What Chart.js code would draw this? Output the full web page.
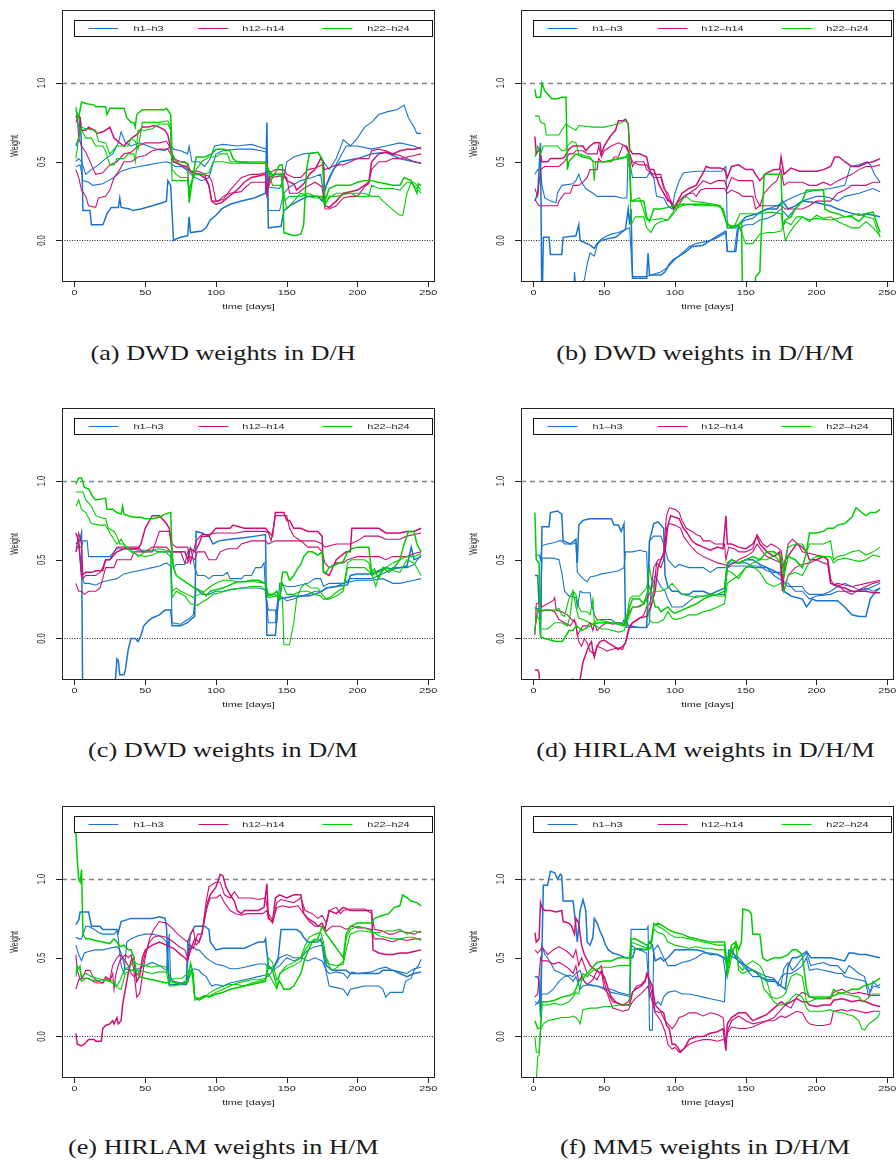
<!DOCTYPE html>
<html>
<head>
<meta charset="utf-8">
<script src="https://cdn.jsdelivr.net/npm/chart.js@4.4.1/dist/chart.umd.min.js"></script>
<style>
  body { margin: 0; background: #fff; width: 896px; height: 1164px; position: relative; overflow: hidden; }
  canvas { position: absolute; }
  .cap { position: absolute; width: 448px; text-align: center; line-height: 24px;
         font-family: 'Liberation Serif', 'DejaVu Serif', serif; font-size: 21px; color: #1a1a1a; }
  .cap span { display: inline-block; transform: scaleX(1.25); }
</style>
</head>
<body>
<script>
// axis ticks and legend text
const xTicks = [0, 50, 100, 150, 200, 250];
const yTicks = [0, 0.5, 1];
const yTickLabels = ['0.0', '0.5', '1.0'];
const horizons = ['h1\u2013h3', 'h12\u2013h14', 'h22\u2013h24'];

// each horizon group holds three lines of [day, weight]

// (a) DWD weights in D/H
const dwdDH_h1 = [
  [[1,0.6],[3,0.65],[4,0.78],[5,0.6],[6,0.19],[11,0.19],[12,0.1],[20,0.1],[21,0.12],[23,0.17],[26,0.21],[31,0.21],[32,0.27],[33,0.21],[39,0.2],[41,0.19],[47,0.2],[55,0.22],[62,0.24],[65,0.25],[66,0.38],[68,0.35],[70,0.0],[72,0.01],[75,0.02],[80,0.03],[81,0.15],[82,0.05],[90,0.06],[93,0.08],[96,0.13],[100,0.16],[104,0.2],[110,0.23],[118,0.25],[127,0.27],[135,0.3],[136,0.75],[137,0.08],[146,0.09],[148,0.19],[152,0.22],[158,0.25],[165,0.28],[172,0.28],[175,0.25],[178,0.35],[183,0.45],[188,0.5],[200,0.52],[210,0.55],[220,0.56],[230,0.52],[240,0.5],[245,0.49]],
  [[1,0.5],[3,0.52],[5,0.5],[8,0.42],[12,0.45],[17,0.48],[22,0.52],[27,0.55],[31,0.62],[33,0.69],[36,0.62],[40,0.6],[46,0.62],[52,0.6],[58,0.58],[64,0.57],[68,0.6],[70,0.58],[75,0.57],[80,0.55],[81,0.6],[83,0.5],[88,0.5],[92,0.47],[96,0.52],[99,0.6],[105,0.61],[115,0.6],[125,0.61],[132,0.59],[136,0.58],[137,0.34],[145,0.33],[148,0.4],[150,0.5],[155,0.53],[162,0.55],[172,0.56],[176,0.5],[180,0.45],[185,0.52],[190,0.64],[195,0.6],[200,0.65],[205,0.72],[210,0.75],[215,0.8],[222,0.82],[228,0.83],[233,0.86],[236,0.78],[240,0.72],[242,0.68],[245,0.68]],
  [[1,0.47],[4,0.48],[6,0.38],[10,0.37],[13,0.35],[20,0.36],[24,0.38],[28,0.4],[33,0.44],[40,0.46],[46,0.47],[52,0.48],[58,0.49],[65,0.5],[68,0.49],[71,0.47],[76,0.47],[80,0.44],[85,0.4],[90,0.38],[95,0.4],[100,0.55],[105,0.57],[115,0.58],[125,0.58],[132,0.57],[136,0.56],[137,0.19],[145,0.19],[148,0.3],[152,0.34],[160,0.38],[168,0.4],[174,0.42],[176,0.3],[180,0.4],[186,0.5],[192,0.6],[200,0.6],[210,0.58],[220,0.6],[230,0.62],[240,0.6],[245,0.58]]
];
const dwdDH_h12 = [
  [[1,0.78],[2,0.8],[4,0.78],[5,0.7],[8,0.7],[10,0.72],[14,0.7],[16,0.68],[20,0.69],[22,0.7],[25,0.72],[28,0.65],[32,0.62],[35,0.6],[38,0.63],[42,0.66],[45,0.68],[48,0.72],[52,0.72],[56,0.73],[60,0.72],[64,0.7],[66,0.67],[68,0.58],[70,0.5],[75,0.48],[79,0.47],[81,0.45],[84,0.42],[88,0.42],[92,0.4],[95,0.35],[97,0.25],[100,0.23],[104,0.24],[108,0.27],[112,0.3],[116,0.33],[120,0.37],[125,0.4],[130,0.41],[135,0.42],[136,0.3],[138,0.4],[142,0.42],[148,0.42],[150,0.38],[155,0.36],[157,0.32],[162,0.36],[166,0.42],[170,0.45],[174,0.52],[176,0.5],[177,0.22],[180,0.21],[185,0.25],[190,0.3],[195,0.31],[200,0.32],[205,0.35],[208,0.37],[210,0.5],[215,0.55],[220,0.56],[225,0.55],[230,0.57],[235,0.58],[240,0.58],[245,0.59]],
  [[1,0.45],[3,0.4],[5,0.32],[8,0.28],[10,0.22],[15,0.21],[17,0.27],[22,0.28],[25,0.32],[28,0.4],[32,0.45],[35,0.5],[40,0.5],[45,0.53],[50,0.54],[55,0.57],[60,0.58],[66,0.58],[68,0.55],[70,0.5],[75,0.48],[80,0.45],[82,0.44],[88,0.44],[92,0.42],[95,0.35],[97,0.25],[102,0.25],[105,0.28],[110,0.3],[118,0.31],[120,0.33],[125,0.37],[130,0.37],[135,0.37],[137,0.34],[140,0.4],[145,0.41],[150,0.4],[152,0.3],[158,0.3],[162,0.33],[166,0.35],[170,0.37],[175,0.34],[177,0.2],[180,0.2],[185,0.22],[190,0.27],[195,0.28],[200,0.28],[205,0.34],[208,0.36],[210,0.45],[215,0.5],[220,0.5],[225,0.52],[230,0.52],[235,0.53],[240,0.54],[245,0.55]],
  [[1,0.75],[2,0.78],[3,0.65],[5,0.6],[8,0.56],[10,0.52],[12,0.48],[15,0.42],[20,0.43],[25,0.48],[30,0.5],[35,0.55],[40,0.56],[45,0.6],[50,0.62],[55,0.62],[60,0.62],[65,0.63],[67,0.6],[70,0.52],[75,0.5],[80,0.49],[82,0.44],[85,0.43],[90,0.42],[95,0.41],[97,0.38],[100,0.25],[105,0.26],[110,0.32],[115,0.37],[118,0.4],[125,0.42],[130,0.42],[135,0.43],[136,0.28],[138,0.43],[142,0.45],[148,0.45],[150,0.42],[155,0.4],[160,0.4],[165,0.45],[170,0.46],[175,0.48],[177,0.45],[180,0.46],[185,0.48],[190,0.48],[195,0.5],[200,0.52],[205,0.52],[208,0.52],[210,0.57],[215,0.58],[220,0.57],[225,0.55],[230,0.54],[235,0.52],[240,0.5],[245,0.49]]
];
const dwdDH_h22 = [
  [[1,0.83],[3,0.78],[5,0.88],[8,0.87],[14,0.86],[15,0.85],[22,0.85],[23,0.8],[25,0.84],[30,0.84],[35,0.84],[37,0.78],[40,0.75],[42,0.75],[43,0.72],[44,0.8],[48,0.83],[55,0.83],[63,0.83],[65,0.84],[68,0.8],[69,0.55],[72,0.5],[78,0.5],[80,0.48],[81,0.24],[82,0.3],[84,0.42],[86,0.53],[92,0.53],[97,0.55],[100,0.58],[105,0.58],[110,0.57],[112,0.52],[115,0.5],[125,0.49],[135,0.49],[137,0.45],[140,0.4],[145,0.48],[147,0.48],[148,0.05],[155,0.03],[160,0.04],[162,0.1],[164,0.45],[166,0.55],[172,0.56],[175,0.52],[177,0.25],[180,0.33],[185,0.35],[195,0.35],[200,0.37],[205,0.38],[210,0.38],[215,0.37],[220,0.36],[225,0.35],[230,0.35],[233,0.4],[238,0.38],[242,0.3],[243,0.36],[245,0.35]],
  [[1,0.85],[3,0.72],[5,0.7],[8,0.65],[12,0.65],[15,0.6],[20,0.6],[22,0.57],[25,0.48],[28,0.48],[30,0.52],[35,0.52],[38,0.55],[42,0.55],[43,0.5],[44,0.6],[45,0.7],[50,0.7],[55,0.71],[60,0.74],[66,0.74],[68,0.7],[69,0.45],[72,0.42],[75,0.4],[80,0.4],[81,0.3],[82,0.35],[86,0.45],[90,0.5],[95,0.53],[100,0.53],[103,0.55],[108,0.55],[110,0.5],[120,0.5],[130,0.5],[135,0.5],[137,0.45],[140,0.42],[146,0.42],[148,0.25],[152,0.28],[160,0.28],[165,0.3],[170,0.28],[175,0.28],[177,0.23],[180,0.27],[185,0.3],[195,0.3],[200,0.28],[208,0.28],[210,0.35],[215,0.33],[225,0.33],[230,0.32],[235,0.37],[240,0.37],[245,0.32]],
  [[1,0.52],[3,0.65],[5,0.72],[8,0.71],[15,0.7],[17,0.63],[22,0.62],[25,0.55],[28,0.58],[30,0.6],[38,0.6],[40,0.65],[43,0.63],[45,0.58],[48,0.75],[55,0.75],[60,0.75],[66,0.76],[68,0.72],[69,0.38],[75,0.38],[80,0.38],[81,0.33],[83,0.38],[85,0.42],[90,0.42],[95,0.43],[98,0.5],[105,0.5],[110,0.49],[120,0.49],[130,0.49],[135,0.49],[137,0.44],[140,0.35],[146,0.35],[148,0.3],[150,0.2],[155,0.25],[160,0.3],[165,0.28],[170,0.27],[175,0.27],[177,0.22],[180,0.28],[185,0.28],[190,0.29],[195,0.3],[200,0.3],[205,0.3],[210,0.28],[215,0.28],[218,0.25],[222,0.22],[227,0.18],[230,0.16],[232,0.16],[235,0.3],[238,0.37],[242,0.33],[245,0.3]]
];

// (b) DWD weights in D/H/M
const dwdDHM_h1 = [
  [[1,0.25],[3,0.3],[5,0.62],[6,-0.5],[7,0.02],[11,0.02],[12,-0.09],[20,-0.09],[21,0.02],[30,0.03],[32,0.1],[33,0.0],[40,-0.03],[43,-0.05],[45,-0.02],[48,0.0],[52,0.01],[58,0.02],[62,0.05],[65,0.07],[67,0.2],[68,0.1],[69,0.2],[70,-0.24],[80,-0.24],[81,-0.08],[82,-0.22],[90,-0.22],[93,-0.2],[96,-0.15],[99,-0.12],[103,-0.1],[108,-0.07],[112,-0.04],[120,-0.03],[125,0.0],[130,0.02],[136,0.05],[137,-0.07],[143,-0.07],[145,0.1],[150,0.15],[158,0.17],[165,0.2],[172,0.2],[176,0.25],[180,0.2],[185,0.22],[190,0.25],[200,0.24],[210,0.22],[215,0.2],[222,0.18],[230,0.16],[235,0.17],[240,0.16],[245,0.15]],
  [[1,0.42],[3,0.45],[5,0.45],[6,0.35],[8,0.27],[12,0.25],[16,0.24],[17,0.3],[20,0.35],[28,0.36],[30,0.38],[32,0.42],[34,0.37],[37,0.33],[42,0.3],[45,0.28],[58,0.28],[62,0.27],[66,0.27],[67,0.57],[68,0.5],[70,0.4],[80,0.4],[82,0.43],[85,0.4],[87,0.28],[92,0.27],[95,0.22],[98,0.2],[100,0.3],[103,0.38],[106,0.43],[115,0.44],[125,0.44],[133,0.44],[136,0.47],[137,0.08],[143,0.08],[145,0.1],[150,0.13],[155,0.14],[160,0.18],[165,0.2],[172,0.22],[178,0.25],[185,0.28],[190,0.3],[200,0.32],[210,0.33],[220,0.35],[224,0.47],[230,0.48],[236,0.5],[238,0.48],[241,0.42],[245,0.37]],
  [[1,-0.5],[28,-0.4],[29,-0.2],[30,-0.3],[33,-0.28],[36,-0.25],[38,-0.15],[40,-0.08],[43,-0.1],[45,-0.03],[47,0.0],[50,0.02],[55,0.04],[60,0.05],[65,0.07],[68,0.08],[70,-0.23],[80,-0.23],[83,-0.22],[90,-0.2],[95,-0.17],[100,-0.12],[105,-0.08],[110,-0.04],[115,-0.02],[125,0.0],[130,0.03],[136,0.06],[137,-0.07],[142,-0.07],[144,0.07],[150,0.1],[155,0.1],[160,0.13],[165,0.14],[170,0.16],[175,0.2],[180,0.15],[185,0.2],[190,0.25],[200,0.28],[205,0.28],[210,0.27],[215,0.25],[220,0.28],[230,0.3],[240,0.33],[245,0.31]]
];
const dwdDHM_h12 = [
  [[1,0.66],[2,0.55],[4,0.58],[6,0.5],[10,0.5],[12,0.52],[20,0.52],[22,0.53],[25,0.58],[28,0.6],[35,0.6],[37,0.57],[40,0.6],[43,0.62],[47,0.62],[48,0.55],[50,0.6],[52,0.63],[55,0.67],[58,0.7],[60,0.76],[63,0.76],[65,0.77],[67,0.74],[68,0.58],[70,0.55],[75,0.55],[80,0.53],[82,0.45],[85,0.45],[87,0.4],[89,0.35],[92,0.3],[95,0.25],[97,0.25],[99,0.2],[102,0.25],[105,0.3],[110,0.33],[115,0.35],[118,0.4],[120,0.43],[122,0.47],[125,0.46],[132,0.46],[135,0.45],[137,0.4],[140,0.47],[145,0.48],[150,0.45],[155,0.45],[157,0.42],[160,0.38],[165,0.43],[170,0.45],[174,0.45],[175,0.53],[177,0.42],[182,0.46],[188,0.44],[200,0.44],[205,0.45],[210,0.47],[213,0.53],[216,0.53],[220,0.5],[225,0.47],[230,0.47],[235,0.49],[240,0.5],[245,0.52]],
  [[1,0.33],[3,0.28],[5,0.45],[8,0.47],[15,0.47],[18,0.47],[22,0.5],[25,0.55],[28,0.55],[30,0.57],[35,0.57],[38,0.55],[45,0.55],[46,0.6],[48,0.53],[50,0.57],[55,0.6],[60,0.62],[65,0.6],[66,0.58],[68,0.55],[70,0.47],[72,0.5],[78,0.5],[80,0.45],[85,0.42],[90,0.42],[92,0.35],[95,0.27],[98,0.22],[100,0.22],[103,0.25],[106,0.28],[110,0.3],[115,0.33],[120,0.38],[125,0.36],[130,0.38],[135,0.38],[137,0.33],[140,0.4],[145,0.38],[155,0.38],[157,0.27],[160,0.22],[163,0.3],[168,0.35],[172,0.38],[175,0.45],[177,0.35],[180,0.37],[190,0.37],[195,0.35],[200,0.35],[205,0.37],[210,0.35],[215,0.38],[220,0.4],[225,0.42],[230,0.45],[235,0.47],[240,0.47],[245,0.48]],
  [[1,0.26],[4,0.22],[10,0.22],[17,0.22],[18,0.25],[22,0.3],[26,0.3],[28,0.35],[32,0.35],[35,0.37],[38,0.4],[40,0.45],[45,0.45],[46,0.52],[48,0.5],[55,0.5],[57,0.53],[60,0.53],[63,0.6],[66,0.6],[67,0.57],[70,0.5],[75,0.48],[80,0.48],[82,0.45],[85,0.4],[90,0.4],[92,0.33],[95,0.3],[97,0.25],[100,0.21],[103,0.23],[106,0.27],[110,0.3],[113,0.3],[115,0.28],[118,0.32],[122,0.33],[135,0.33],[137,0.3],[140,0.32],[145,0.3],[148,0.28],[155,0.28],[157,0.2],[160,0.22],[165,0.22],[170,0.22],[175,0.22],[178,0.2],[185,0.2],[190,0.2],[195,0.22],[200,0.25],[210,0.25],[215,0.3],[220,0.32],[225,0.35],[230,0.35],[235,0.35],[240,0.37],[245,0.37]]
];
const dwdDHM_h22 = [
  [[1,0.96],[2,0.91],[5,0.91],[6,1.0],[8,0.95],[10,0.93],[13,0.9],[17,0.9],[20,0.91],[23,0.91],[24,0.45],[25,0.5],[27,0.52],[30,0.55],[35,0.53],[40,0.52],[43,0.5],[45,0.5],[50,0.5],[55,0.51],[60,0.52],[65,0.53],[67,0.55],[68,0.5],[69,0.25],[72,0.25],[78,0.25],[80,0.15],[82,0.12],[85,0.2],[90,0.2],[95,0.21],[100,0.22],[105,0.23],[110,0.23],[120,0.23],[130,0.22],[134,0.2],[136,0.12],[140,0.08],[145,0.1],[147,0.12],[148,-0.5],[156,-0.5],[157,-0.23],[160,-0.2],[161,0.05],[162,0.2],[163,0.42],[170,0.42],[175,0.42],[176,0.1],[178,0.13],[182,0.15],[185,0.2],[190,0.25],[193,0.32],[200,0.32],[205,0.32],[206,0.2],[210,0.18],[215,0.17],[220,0.15],[225,0.15],[230,0.12],[235,0.17],[240,0.18],[243,0.1],[245,0.05]],
  [[1,0.79],[4,0.79],[5,0.75],[8,0.74],[9,0.67],[18,0.67],[20,0.7],[23,0.74],[26,0.72],[30,0.7],[32,0.73],[42,0.72],[50,0.72],[55,0.73],[60,0.74],[65,0.76],[67,0.74],[68,0.5],[69,0.1],[72,0.15],[78,0.15],[80,0.08],[83,0.05],[86,0.1],[90,0.12],[95,0.13],[100,0.18],[105,0.26],[108,0.28],[112,0.25],[120,0.24],[128,0.23],[132,0.22],[135,0.15],[137,0.1],[142,0.09],[146,0.17],[150,0.17],[160,0.17],[168,0.18],[175,0.17],[178,0.0],[181,0.05],[185,0.1],[190,0.15],[195,0.13],[200,0.14],[210,0.13],[220,0.15],[230,0.17],[235,0.15],[240,0.14],[245,0.02]],
  [[1,0.53],[3,0.6],[5,0.55],[7,0.6],[17,0.6],[20,0.57],[22,0.57],[24,0.6],[27,0.63],[30,0.62],[32,0.55],[36,0.54],[40,0.53],[42,0.5],[43,0.38],[44,0.5],[48,0.5],[52,0.5],[56,0.51],[62,0.52],[66,0.53],[68,0.45],[69,0.25],[75,0.27],[80,0.13],[84,0.13],[90,0.14],[95,0.13],[100,0.2],[105,0.22],[110,0.23],[115,0.22],[125,0.22],[132,0.22],[135,0.17],[137,0.08],[145,0.1],[150,-0.02],[155,-0.02],[160,0.04],[165,0.05],[170,0.05],[175,0.06],[178,0.12],[182,0.1],[186,0.15],[190,0.15],[195,0.12],[200,0.16],[205,0.14],[210,0.15],[215,0.12],[220,0.1],[225,0.08],[230,0.08],[235,0.12],[240,0.08],[245,0.03]]
];

// (c) DWD weights in D/M
const dwdDM_h1 = [
  [[1,0.6],[4,0.63],[5,0.67],[6,-0.6],[28,-0.5],[29,-0.26],[30,-0.13],[31,-0.14],[32,-0.23],[35,-0.23],[36,-0.2],[38,-0.07],[40,0.0],[43,0.0],[45,-0.02],[47,0.02],[49,0.08],[52,0.11],[55,0.13],[60,0.15],[64,0.18],[68,0.18],[69,0.08],[75,0.08],[80,0.1],[82,0.12],[85,0.14],[86,0.68],[90,0.67],[95,0.65],[98,0.6],[102,0.62],[110,0.63],[120,0.64],[128,0.65],[135,0.66],[136,0.02],[142,0.02],[144,0.25],[150,0.26],[155,0.27],[165,0.27],[170,0.28],[175,0.3],[178,0.32],[185,0.33],[193,0.34],[195,0.4],[200,0.41],[210,0.41],[215,0.43],[220,0.45],[225,0.44],[230,0.45],[235,0.46],[238,0.58],[240,0.5],[245,0.52]],
  [[1,0.58],[5,0.58],[6,0.62],[9,0.62],[10,0.52],[15,0.52],[25,0.52],[28,0.55],[30,0.57],[40,0.57],[45,0.56],[55,0.56],[60,0.55],[68,0.55],[69,0.5],[70,0.45],[72,0.47],[78,0.47],[80,0.55],[82,0.58],[85,0.45],[87,0.4],[92,0.4],[95,0.38],[98,0.4],[105,0.4],[108,0.42],[110,0.38],[118,0.38],[120,0.4],[125,0.4],[128,0.45],[132,0.45],[134,0.48],[135,0.3],[137,0.18],[142,0.18],[143,0.1],[145,0.35],[150,0.33],[155,0.33],[160,0.34],[165,0.35],[170,0.38],[174,0.38],[176,0.33],[180,0.35],[190,0.35],[195,0.38],[210,0.38],[215,0.4],[220,0.42],[225,0.45],[235,0.45],[240,0.47],[245,0.53]],
  [[1,0.55],[3,0.6],[5,0.4],[7,0.35],[10,0.35],[15,0.34],[20,0.36],[25,0.37],[30,0.38],[35,0.41],[40,0.42],[45,0.43],[50,0.44],[55,0.45],[60,0.46],[65,0.48],[68,0.46],[69,0.1],[75,0.09],[80,0.12],[84,0.15],[86,0.32],[90,0.28],[95,0.28],[100,0.3],[105,0.3],[110,0.31],[120,0.32],[130,0.32],[135,0.31],[137,0.1],[142,0.1],[144,0.28],[150,0.24],[155,0.25],[160,0.27],[165,0.28],[170,0.3],[175,0.3],[178,0.32],[185,0.33],[190,0.35],[195,0.36],[200,0.37],[210,0.37],[218,0.38],[225,0.35],[230,0.35],[235,0.36],[240,0.37],[245,0.38]]
];
const dwdDM_h12 = [
  [[1,0.67],[3,0.62],[5,0.4],[8,0.42],[12,0.42],[15,0.43],[20,0.43],[22,0.5],[25,0.5],[27,0.52],[30,0.55],[35,0.57],[45,0.57],[47,0.6],[50,0.7],[55,0.78],[60,0.78],[65,0.73],[67,0.7],[69,0.55],[72,0.55],[78,0.55],[80,0.5],[82,0.57],[85,0.55],[88,0.6],[90,0.65],[95,0.65],[100,0.7],[110,0.7],[112,0.72],[120,0.7],[135,0.7],[137,0.68],[140,0.65],[142,0.8],[148,0.8],[150,0.75],[152,0.75],[155,0.7],[160,0.7],[165,0.68],[172,0.68],[175,0.65],[176,0.42],[180,0.4],[185,0.5],[192,0.55],[195,0.55],[196,0.7],[205,0.7],[210,0.7],[215,0.7],[220,0.67],[230,0.67],[235,0.68],[240,0.68],[245,0.7]],
  [[1,0.55],[3,0.67],[5,0.6],[6,0.38],[8,0.4],[15,0.4],[18,0.42],[20,0.45],[22,0.5],[25,0.5],[30,0.58],[45,0.58],[48,0.55],[55,0.55],[57,0.6],[60,0.68],[67,0.68],[69,0.6],[72,0.58],[80,0.58],[82,0.48],[84,0.55],[86,0.62],[90,0.66],[95,0.66],[100,0.67],[115,0.67],[120,0.68],[135,0.68],[137,0.67],[139,0.62],[142,0.78],[150,0.78],[152,0.7],[155,0.65],[160,0.62],[170,0.62],[175,0.6],[177,0.58],[185,0.6],[195,0.6],[200,0.62],[205,0.65],[215,0.65],[220,0.63],[230,0.63],[235,0.65],[245,0.67]],
  [[1,0.35],[3,0.3],[5,0.3],[7,0.28],[10,0.3],[15,0.3],[18,0.32],[20,0.38],[22,0.45],[28,0.45],[30,0.5],[40,0.5],[42,0.55],[50,0.55],[55,0.58],[65,0.58],[68,0.55],[75,0.55],[78,0.48],[80,0.48],[82,0.52],[85,0.5],[87,0.55],[92,0.55],[95,0.5],[100,0.5],[103,0.55],[108,0.57],[115,0.57],[118,0.6],[125,0.62],[135,0.62],[137,0.6],[142,0.62],[150,0.62],[160,0.62],[165,0.58],[172,0.58],[175,0.55],[177,0.48],[180,0.45],[185,0.48],[190,0.48],[193,0.5],[200,0.52],[215,0.52],[220,0.5],[225,0.52],[235,0.52],[240,0.54],[245,0.55]]
];
const dwdDM_h22 = [
  [[1,0.98],[2,1.0],[3,1.02],[5,1.02],[7,0.96],[10,0.95],[13,0.9],[15,0.88],[22,0.89],[23,0.82],[27,0.82],[30,0.8],[33,0.79],[34,0.84],[35,0.79],[38,0.78],[42,0.77],[47,0.77],[50,0.76],[55,0.76],[60,0.77],[64,0.79],[68,0.8],[69,0.55],[70,0.45],[72,0.4],[75,0.38],[80,0.35],[85,0.32],[90,0.3],[93,0.27],[96,0.3],[100,0.31],[105,0.32],[110,0.34],[115,0.36],[120,0.36],[125,0.37],[130,0.37],[135,0.35],[137,0.28],[140,0.28],[143,0.3],[145,0.25],[147,0.42],[150,0.42],[152,0.37],[155,0.4],[158,0.45],[160,0.47],[162,0.52],[165,0.55],[168,0.55],[172,0.53],[175,0.55],[176,0.42],[178,0.42],[180,0.45],[185,0.47],[190,0.49],[193,0.55],[196,0.57],[200,0.58],[205,0.58],[208,0.58],[210,0.42],[212,0.44],[215,0.38],[218,0.45],[222,0.42],[226,0.45],[230,0.5],[233,0.6],[236,0.68],[240,0.68],[242,0.6],[245,0.55]],
  [[1,0.93],[6,0.93],[8,0.88],[12,0.84],[15,0.78],[18,0.77],[22,0.76],[24,0.7],[28,0.68],[30,0.65],[32,0.6],[35,0.6],[38,0.57],[42,0.55],[45,0.52],[50,0.55],[55,0.56],[60,0.57],[65,0.56],[68,0.55],[69,0.3],[72,0.32],[75,0.3],[80,0.28],[84,0.26],[88,0.28],[92,0.3],[96,0.33],[100,0.35],[105,0.37],[110,0.37],[115,0.36],[120,0.36],[128,0.36],[135,0.35],[137,0.27],[142,0.28],[145,0.26],[147,0.25],[148,-0.04],[152,-0.04],[155,0.1],[157,0.25],[160,0.32],[163,0.35],[167,0.32],[172,0.32],[175,0.28],[178,0.25],[182,0.27],[186,0.3],[190,0.32],[193,0.48],[196,0.5],[200,0.5],[205,0.5],[208,0.48],[210,0.4],[215,0.42],[220,0.45],[225,0.48],[230,0.5],[235,0.52],[240,0.52],[245,0.54]],
  [[1,0.84],[3,0.88],[5,0.82],[8,0.8],[12,0.73],[18,0.72],[22,0.72],[25,0.67],[30,0.6],[33,0.63],[36,0.58],[40,0.55],[45,0.53],[50,0.52],[55,0.53],[60,0.55],[64,0.55],[68,0.52],[69,0.26],[72,0.3],[78,0.27],[82,0.22],[87,0.21],[90,0.23],[94,0.25],[98,0.28],[103,0.29],[110,0.31],[118,0.32],[125,0.33],[132,0.33],[135,0.3],[137,0.26],[143,0.27],[145,0.25],[147,0.35],[150,0.28],[155,0.28],[160,0.3],[165,0.3],[170,0.28],[174,0.27],[176,0.25],[180,0.25],[185,0.27],[190,0.3],[193,0.45],[200,0.45],[205,0.45],[210,0.41],[213,0.33],[215,0.4],[220,0.45],[225,0.43],[230,0.42],[235,0.5],[240,0.48],[245,0.4]]
];

// (d) HIRLAM weights in D/H/M
const hirlamDHM_h1 = [
  [[1,0.4],[3,0.4],[4,0.2],[5,0.02],[6,0.71],[11,0.71],[12,0.8],[17,0.81],[20,0.79],[21,0.62],[26,0.6],[30,0.63],[31,0.48],[32,0.72],[35,0.75],[40,0.76],[50,0.76],[55,0.76],[57,0.72],[60,0.72],[62,0.68],[64,0.73],[65,0.12],[67,0.08],[75,0.07],[80,0.07],[81,0.3],[82,0.62],[85,0.73],[88,0.74],[90,0.72],[92,0.7],[93,0.4],[95,0.33],[98,0.3],[102,0.3],[105,0.28],[110,0.28],[113,0.3],[120,0.3],[125,0.28],[130,0.3],[135,0.32],[137,0.47],[140,0.5],[145,0.48],[150,0.5],[155,0.5],[160,0.47],[165,0.45],[170,0.43],[175,0.4],[177,0.3],[182,0.27],[190,0.25],[193,0.2],[197,0.25],[200,0.24],[215,0.24],[220,0.2],[225,0.15],[230,0.14],[235,0.14],[238,0.25],[242,0.3],[245,0.32]],
  [[1,0.53],[4,0.53],[5,0.5],[6,0.59],[10,0.6],[15,0.61],[18,0.62],[20,0.62],[22,0.6],[28,0.6],[30,0.61],[31,0.42],[33,0.4],[35,0.38],[38,0.36],[40,0.39],[45,0.4],[48,0.41],[55,0.42],[60,0.43],[64,0.45],[65,0.55],[70,0.55],[75,0.56],[80,0.55],[81,0.3],[82,0.62],[85,0.65],[90,0.65],[92,0.6],[95,0.5],[100,0.45],[103,0.47],[110,0.45],[120,0.45],[125,0.42],[130,0.45],[137,0.45],[140,0.48],[150,0.48],[155,0.46],[160,0.46],[165,0.43],[170,0.42],[175,0.42],[177,0.35],[180,0.33],[190,0.33],[192,0.3],[195,0.28],[205,0.28],[210,0.3],[215,0.33],[220,0.35],[225,0.33],[230,0.31],[235,0.31],[240,0.33],[245,0.35]],
  [[1,0.19],[4,0.19],[5,0.1],[6,0.51],[14,0.51],[18,0.5],[20,0.42],[22,0.3],[25,0.27],[30,0.26],[31,0.2],[33,0.3],[35,0.29],[40,0.29],[41,0.22],[43,0.15],[45,0.12],[55,0.12],[58,0.1],[63,0.1],[64,0.12],[66,0.07],[80,0.07],[82,0.1],[83,0.3],[86,0.4],[90,0.33],[93,0.3],[95,0.25],[98,0.2],[105,0.2],[108,0.22],[112,0.25],[115,0.27],[125,0.27],[130,0.28],[135,0.28],[137,0.45],[140,0.46],[150,0.46],[155,0.45],[165,0.45],[170,0.4],[175,0.37],[180,0.35],[185,0.3],[190,0.3],[195,0.25],[200,0.27],[210,0.28],[215,0.3],[230,0.3],[235,0.32],[240,0.3],[245,0.32]]
];
const hirlamDHM_h12 = [
  [[1,-0.2],[3,-0.2],[4,-0.22],[5,-0.5],[27,-0.5],[28,-0.26],[30,-0.28],[33,-0.26],[35,-0.15],[37,-0.1],[39,-0.05],[41,-0.02],[42,-0.08],[43,-0.12],[45,-0.05],[47,-0.02],[50,-0.01],[53,-0.03],[57,-0.05],[60,-0.07],[63,-0.05],[65,-0.03],[67,0.05],[70,0.1],[75,0.13],[80,0.14],[83,0.2],[86,0.3],[88,0.45],[90,0.5],[93,0.55],[95,0.72],[97,0.78],[100,0.77],[103,0.76],[106,0.7],[108,0.68],[112,0.62],[115,0.6],[120,0.58],[125,0.56],[130,0.58],[134,0.57],[136,0.78],[137,0.6],[140,0.6],[145,0.58],[150,0.57],[155,0.6],[158,0.65],[160,0.6],[165,0.55],[170,0.52],[174,0.55],[176,0.3],[178,0.5],[182,0.55],[186,0.6],[190,0.58],[193,0.55],[195,0.5],[200,0.5],[205,0.52],[208,0.5],[210,0.35],[215,0.33],[220,0.32],[225,0.3],[230,0.3],[235,0.3],[240,0.29],[245,0.29]],
  [[1,0.02],[2,0.22],[5,0.23],[6,0.2],[10,0.22],[14,0.24],[15,0.26],[16,0.18],[20,0.17],[24,0.15],[27,0.12],[30,0.1],[31,0.02],[33,0.05],[35,0.08],[38,0.08],[40,0.1],[42,0.05],[43,0.1],[45,0.05],[48,0.08],[52,0.1],[56,0.09],[60,0.1],[63,0.09],[65,0.1],[67,0.15],[70,0.2],[73,0.2],[78,0.22],[80,0.25],[83,0.3],[85,0.45],[88,0.5],[90,0.5],[92,0.55],[94,0.78],[96,0.83],[100,0.82],[103,0.8],[105,0.75],[108,0.7],[112,0.68],[115,0.66],[118,0.65],[120,0.62],[125,0.62],[128,0.6],[132,0.6],[135,0.6],[136,0.5],[138,0.58],[142,0.57],[145,0.55],[150,0.55],[155,0.57],[158,0.66],[162,0.6],[165,0.58],[168,0.6],[172,0.58],[175,0.56],[177,0.45],[180,0.6],[183,0.63],[187,0.6],[190,0.55],[195,0.54],[200,0.53],[205,0.52],[208,0.5],[210,0.38],[212,0.34],[215,0.35],[220,0.34],[225,0.33],[230,0.34],[235,0.35],[240,0.36],[245,0.37]],
  [[1,0.05],[3,0.18],[5,0.17],[8,0.18],[12,0.18],[15,0.17],[18,0.12],[22,0.1],[26,0.08],[29,0.12],[30,0.08],[32,-0.02],[34,-0.05],[36,0.0],[38,-0.03],[40,-0.08],[43,-0.1],[45,-0.05],[48,-0.06],[52,-0.08],[55,-0.07],[60,-0.06],[63,-0.07],[66,0.0],[68,0.08],[70,0.1],[74,0.12],[78,0.15],[80,0.2],[82,0.22],[85,0.3],[87,0.48],[90,0.45],[92,0.5],[94,0.7],[96,0.73],[100,0.72],[104,0.7],[106,0.65],[110,0.6],[115,0.55],[120,0.52],[125,0.5],[130,0.48],[135,0.47],[137,0.46],[142,0.48],[145,0.5],[150,0.52],[155,0.55],[158,0.6],[162,0.55],[165,0.52],[170,0.5],[175,0.48],[177,0.3],[180,0.4],[185,0.45],[190,0.47],[195,0.48],[200,0.5],[205,0.48],[208,0.47],[210,0.35],[215,0.34],[220,0.3],[225,0.28],[230,0.31],[235,0.33],[240,0.35],[245,0.36]]
];
const hirlamDHM_h22 = [
  [[1,0.8],[2,0.5],[4,0.48],[5,0.01],[8,0.0],[12,-0.01],[16,-0.02],[20,-0.02],[22,0.0],[25,0.05],[28,0.05],[30,0.08],[32,0.07],[34,0.05],[38,0.07],[42,0.09],[46,0.1],[50,0.1],[55,0.1],[60,0.09],[64,0.08],[66,0.12],[68,0.2],[70,0.25],[75,0.25],[78,0.22],[80,0.28],[82,0.33],[84,0.28],[86,0.2],[88,0.2],[90,0.17],[95,0.2],[98,0.17],[100,0.16],[105,0.18],[110,0.2],[115,0.22],[120,0.25],[125,0.27],[130,0.28],[135,0.3],[137,0.48],[140,0.5],[145,0.48],[150,0.5],[155,0.52],[160,0.5],[165,0.55],[170,0.55],[175,0.52],[177,0.4],[180,0.52],[185,0.5],[190,0.45],[193,0.55],[195,0.67],[200,0.67],[205,0.68],[208,0.7],[212,0.7],[215,0.72],[220,0.73],[225,0.77],[228,0.83],[232,0.8],[235,0.78],[238,0.8],[242,0.8],[245,0.82]],
  [[1,0.2],[3,0.17],[5,0.18],[10,0.18],[15,0.18],[18,0.19],[20,0.15],[22,0.14],[25,0.25],[28,0.3],[30,0.28],[32,0.2],[34,0.17],[38,0.17],[40,0.15],[42,0.25],[43,0.1],[46,0.12],[50,0.11],[55,0.1],[60,0.1],[64,0.09],[66,0.15],[68,0.25],[70,0.27],[75,0.27],[80,0.32],[82,0.45],[84,0.35],[86,0.3],[90,0.3],[95,0.32],[98,0.35],[100,0.33],[105,0.28],[110,0.27],[115,0.26],[120,0.27],[125,0.28],[130,0.27],[135,0.27],[137,0.43],[140,0.42],[145,0.38],[150,0.45],[155,0.48],[160,0.5],[165,0.5],[170,0.53],[175,0.48],[177,0.45],[180,0.58],[185,0.6],[190,0.6],[193,0.55],[195,0.6],[200,0.6],[205,0.6],[210,0.62],[212,0.5],[215,0.52],[220,0.53],[225,0.55],[230,0.56],[235,0.53],[240,0.55],[245,0.58]],
  [[1,0.03],[2,0.15],[4,0.12],[5,0.06],[10,0.06],[15,0.1],[20,0.1],[24,0.08],[26,0.15],[28,0.3],[30,0.2],[32,0.13],[35,0.12],[40,0.1],[44,0.08],[48,0.06],[52,0.06],[56,0.05],[60,0.04],[64,0.05],[66,0.1],[68,0.15],[70,0.2],[75,0.2],[78,0.22],[80,0.25],[82,0.12],[84,0.1],[88,0.1],[92,0.12],[95,0.17],[98,0.13],[100,0.12],[105,0.13],[110,0.15],[115,0.15],[120,0.17],[125,0.18],[130,0.2],[135,0.22],[137,0.35],[140,0.37],[145,0.4],[150,0.45],[155,0.46],[160,0.42],[165,0.35],[170,0.33],[175,0.35],[177,0.3],[180,0.4],[185,0.42],[190,0.4],[193,0.45],[196,0.5],[200,0.52],[205,0.52],[210,0.52],[212,0.48],[215,0.5],[220,0.51],[225,0.5],[230,0.49],[235,0.5],[240,0.53],[245,0.52]]
];

// (e) HIRLAM weights in H/M
const hirlamHM_h1 = [
  [[1,0.71],[3,0.74],[4,0.79],[10,0.79],[12,0.7],[18,0.7],[20,0.68],[30,0.68],[31,0.66],[33,0.73],[40,0.75],[55,0.75],[60,0.76],[64,0.75],[65,0.7],[67,0.33],[70,0.33],[75,0.33],[79,0.33],[80,0.5],[82,0.65],[85,0.7],[92,0.7],[95,0.68],[96,0.6],[100,0.55],[105,0.56],[120,0.56],[125,0.58],[130,0.6],[134,0.6],[135,0.62],[137,0.45],[140,0.42],[144,0.5],[146,0.68],[150,0.68],[157,0.68],[160,0.66],[162,0.63],[165,0.6],[172,0.6],[174,0.62],[176,0.55],[178,0.45],[182,0.42],[192,0.42],[195,0.4],[215,0.4],[218,0.42],[225,0.42],[230,0.4],[235,0.38],[240,0.4],[245,0.41]],
  [[1,0.63],[3,0.62],[5,0.62],[8,0.7],[10,0.7],[14,0.68],[17,0.66],[20,0.65],[25,0.65],[28,0.65],[30,0.67],[31,0.62],[33,0.45],[35,0.4],[37,0.6],[40,0.62],[45,0.64],[50,0.65],[55,0.65],[60,0.64],[63,0.62],[65,0.6],[66,0.4],[70,0.35],[75,0.34],[79,0.34],[80,0.6],[82,0.55],[84,0.57],[86,0.55],[88,0.55],[90,0.53],[93,0.5],[96,0.48],[100,0.46],[105,0.45],[110,0.43],[115,0.43],[120,0.44],[125,0.45],[130,0.46],[135,0.46],[137,0.43],[142,0.45],[145,0.5],[150,0.52],[155,0.5],[160,0.5],[165,0.48],[170,0.5],[175,0.48],[178,0.42],[180,0.4],[185,0.41],[190,0.4],[193,0.37],[196,0.41],[200,0.4],[210,0.41],[215,0.43],[220,0.44],[225,0.42],[230,0.41],[235,0.4],[240,0.43],[245,0.44]],
  [[1,0.58],[3,0.52],[5,0.48],[7,0.53],[10,0.54],[15,0.55],[20,0.55],[25,0.56],[30,0.57],[32,0.55],[34,0.5],[36,0.43],[40,0.42],[45,0.43],[50,0.45],[55,0.47],[60,0.45],[65,0.42],[67,0.65],[68,0.35],[72,0.34],[76,0.34],[79,0.33],[80,0.38],[82,0.42],[85,0.43],[88,0.42],[90,0.4],[93,0.38],[97,0.32],[100,0.33],[105,0.32],[110,0.34],[120,0.36],[130,0.38],[135,0.39],[137,0.38],[140,0.42],[145,0.45],[150,0.5],[155,0.48],[160,0.5],[165,0.55],[170,0.57],[175,0.58],[177,0.45],[180,0.32],[185,0.31],[190,0.3],[193,0.26],[195,0.3],[200,0.31],[205,0.32],[210,0.32],[215,0.32],[218,0.3],[220,0.25],[223,0.28],[228,0.28],[232,0.28],[234,0.35],[238,0.37],[240,0.42],[243,0.45],[245,0.49]]
];
const hirlamHM_h12 = [
  [[1,0.02],[2,-0.05],[5,-0.06],[8,-0.04],[10,-0.02],[14,-0.02],[15,-0.03],[19,-0.03],[20,0.05],[22,0.07],[25,0.08],[27,0.1],[28,0.08],[30,0.12],[31,0.08],[33,0.1],[34,0.2],[36,0.3],[38,0.4],[40,0.48],[42,0.5],[43,0.42],[44,0.35],[46,0.38],[48,0.5],[50,0.55],[55,0.58],[60,0.6],[65,0.58],[70,0.56],[75,0.52],[78,0.5],[80,0.48],[82,0.55],[85,0.62],[88,0.6],[90,0.65],[92,0.75],[94,0.85],[96,0.9],[100,0.95],[103,1.03],[105,1.02],[107,0.95],[110,0.9],[113,0.86],[115,0.8],[118,0.78],[120,0.8],[125,0.8],[130,0.8],[134,0.82],[136,0.97],[137,0.75],[140,0.73],[142,0.88],[145,0.9],[150,0.88],[155,0.9],[160,0.9],[162,0.78],[165,0.75],[170,0.72],[172,0.7],[175,0.72],[177,0.68],[180,0.8],[185,0.78],[190,0.82],[195,0.8],[200,0.8],[205,0.8],[210,0.8],[211,0.55],[215,0.53],[220,0.52],[225,0.52],[230,0.53],[235,0.53],[240,0.54],[245,0.55]],
  [[1,0.52],[2,0.42],[4,0.36],[6,0.38],[8,0.42],[11,0.42],[13,0.38],[15,0.36],[17,0.35],[20,0.34],[23,0.37],[25,0.35],[27,0.4],[28,0.3],[29,0.38],[30,0.42],[32,0.48],[34,0.5],[36,0.52],[38,0.5],[40,0.52],[42,0.42],[44,0.25],[46,0.27],[50,0.5],[53,0.62],[56,0.68],[60,0.73],[65,0.72],[70,0.68],[73,0.65],[77,0.62],[80,0.6],[82,0.65],[84,0.68],[86,0.58],[88,0.6],[90,0.65],[93,0.85],[95,0.95],[98,0.97],[100,0.98],[103,0.98],[106,0.9],[110,0.88],[113,0.92],[116,0.88],[120,0.88],[125,0.88],[130,0.87],[135,0.88],[137,0.78],[140,0.74],[143,0.85],[146,0.87],[150,0.86],[155,0.85],[160,0.88],[163,0.8],[168,0.78],[172,0.75],[175,0.77],[178,0.72],[180,0.8],[185,0.82],[188,0.78],[190,0.8],[195,0.81],[200,0.81],[205,0.81],[210,0.78],[212,0.68],[218,0.67],[222,0.65],[225,0.65],[230,0.67],[235,0.66],[240,0.65],[245,0.67]],
  [[1,0.3],[3,0.36],[6,0.37],[10,0.37],[13,0.35],[16,0.34],[20,0.34],[22,0.38],[25,0.36],[27,0.45],[30,0.5],[32,0.52],[34,0.5],[36,0.48],[38,0.45],[40,0.4],[42,0.38],[45,0.4],[48,0.45],[50,0.53],[53,0.6],[56,0.63],[60,0.64],[65,0.63],[70,0.6],[74,0.57],[78,0.55],[80,0.5],[82,0.58],[84,0.56],[87,0.65],[90,0.65],[93,0.8],[96,0.88],[100,0.88],[103,0.9],[106,0.85],[110,0.8],[114,0.78],[118,0.77],[122,0.78],[128,0.78],[133,0.78],[136,0.8],[137,0.76],[140,0.72],[143,0.82],[147,0.83],[152,0.82],[158,0.83],[162,0.78],[166,0.73],[170,0.7],[174,0.7],[178,0.67],[182,0.7],[188,0.7],[192,0.68],[196,0.7],[200,0.69],[205,0.69],[210,0.68],[212,0.62],[218,0.62],[225,0.6],[230,0.62],[235,0.61],[240,0.62],[245,0.62]]
];
const hirlamHM_h22 = [
  [[1,1.3],[2,1.12],[3,1.0],[4,0.98],[5,1.06],[6,0.65],[8,0.62],[10,0.62],[15,0.61],[20,0.6],[25,0.59],[28,0.62],[30,0.6],[32,0.57],[35,0.58],[38,0.55],[40,0.55],[42,0.5],[44,0.4],[46,0.38],[50,0.37],[55,0.36],[60,0.35],[65,0.34],[68,0.35],[72,0.34],[76,0.33],[80,0.35],[83,0.42],[85,0.25],[88,0.24],[92,0.26],[95,0.25],[100,0.27],[105,0.28],[110,0.3],[115,0.31],[120,0.32],[125,0.33],[130,0.34],[135,0.35],[137,0.45],[140,0.42],[143,0.32],[145,0.35],[148,0.3],[152,0.3],[155,0.32],[160,0.4],[163,0.5],[168,0.6],[172,0.62],[175,0.7],[178,0.65],[182,0.6],[186,0.55],[190,0.5],[192,0.65],[195,0.7],[200,0.72],[205,0.72],[210,0.72],[212,0.75],[218,0.77],[222,0.78],[226,0.82],[230,0.83],[232,0.9],[235,0.88],[238,0.86],[242,0.85],[245,0.83]],
  [[1,0.4],[2,0.45],[4,0.42],[5,0.38],[8,0.4],[12,0.38],[16,0.37],[20,0.36],[24,0.36],[28,0.35],[30,0.32],[32,0.35],[35,0.42],[38,0.44],[42,0.47],[45,0.46],[50,0.45],[55,0.44],[60,0.45],[65,0.44],[68,0.36],[72,0.37],[76,0.37],[80,0.4],[82,0.45],[84,0.38],[85,0.23],[88,0.24],[92,0.25],[96,0.26],[100,0.28],[105,0.3],[110,0.32],[115,0.34],[120,0.35],[125,0.36],[130,0.36],[135,0.37],[137,0.4],[140,0.35],[143,0.3],[145,0.4],[148,0.42],[152,0.44],[155,0.45],[160,0.48],[163,0.55],[167,0.6],[170,0.62],[175,0.6],[177,0.52],[180,0.46],[185,0.45],[190,0.46],[192,0.55],[195,0.65],[200,0.67],[205,0.67],[210,0.66],[215,0.66],[220,0.67],[225,0.67],[230,0.68],[235,0.65],[240,0.67],[245,0.66]],
  [[1,0.38],[2,0.42],[4,0.45],[5,0.35],[8,0.37],[12,0.36],[16,0.35],[20,0.36],[25,0.35],[28,0.33],[30,0.31],[33,0.3],[36,0.4],[40,0.42],[45,0.42],[50,0.41],[55,0.4],[60,0.41],[65,0.41],[67,0.32],[70,0.32],[74,0.33],[78,0.35],[80,0.34],[82,0.47],[84,0.4],[85,0.25],[88,0.23],[92,0.25],[96,0.28],[100,0.3],[105,0.32],[110,0.33],[115,0.33],[120,0.32],[125,0.34],[130,0.35],[135,0.36],[137,0.5],[140,0.47],[143,0.36],[147,0.42],[150,0.45],[155,0.47],[160,0.5],[163,0.58],[166,0.63],[170,0.65],[174,0.66],[176,0.6],[178,0.48],[182,0.42],[186,0.44],[190,0.48],[192,0.62],[195,0.68],[200,0.7],[205,0.69],[210,0.67],[215,0.64],[220,0.63],[225,0.62],[230,0.62],[235,0.63],[240,0.63],[245,0.61]]
];

// (f) MM5 weights in D/H/M
const mm5DHM_h1 = [
  [[1,0.38],[3,0.38],[4,0.35],[5,0.12],[6,0.55],[7,0.96],[10,0.96],[12,1.05],[15,1.04],[17,1.0],[19,1.03],[20,1.02],[21,0.86],[25,0.86],[28,0.86],[30,0.7],[31,0.6],[33,0.8],[35,0.87],[37,0.8],[38,0.6],[40,0.58],[42,0.63],[43,0.75],[45,0.72],[47,0.67],[49,0.63],[51,0.58],[53,0.55],[56,0.53],[60,0.52],[65,0.5],[70,0.5],[72,0.56],[75,0.55],[80,0.55],[82,0.6],[84,0.58],[86,0.48],[90,0.5],[92,0.48],[95,0.5],[100,0.55],[105,0.55],[110,0.55],[115,0.55],[120,0.54],[125,0.52],[130,0.52],[135,0.5],[137,0.45],[140,0.55],[143,0.5],[145,0.48],[150,0.45],[155,0.42],[158,0.4],[160,0.38],[165,0.36],[170,0.36],[175,0.32],[178,0.3],[180,0.45],[183,0.5],[186,0.5],[190,0.52],[193,0.54],[196,0.5],[200,0.5],[210,0.5],[215,0.49],[220,0.48],[223,0.53],[226,0.53],[230,0.52],[235,0.52],[240,0.51],[245,0.5]],
  [[1,0.22],[3,0.21],[5,0.25],[6,0.58],[8,0.52],[10,0.5],[15,0.42],[20,0.4],[25,0.38],[28,0.35],[30,0.38],[33,0.3],[35,0.32],[40,0.33],[45,0.32],[50,0.3],[55,0.3],[60,0.28],[65,0.27],[68,0.25],[69,0.68],[75,0.68],[80,0.68],[81,0.7],[82,0.04],[84,0.04],[85,0.55],[88,0.58],[92,0.5],[95,0.45],[100,0.45],[105,0.47],[110,0.48],[115,0.5],[120,0.53],[125,0.53],[130,0.52],[134,0.5],[136,0.38],[138,0.55],[142,0.52],[145,0.5],[148,0.47],[152,0.42],[156,0.42],[160,0.4],[165,0.38],[170,0.37],[173,0.32],[175,0.33],[177,0.43],[180,0.47],[183,0.42],[186,0.45],[190,0.5],[193,0.53],[196,0.45],[200,0.46],[205,0.47],[210,0.45],[215,0.45],[218,0.42],[220,0.4],[223,0.45],[226,0.43],[230,0.4],[234,0.38],[237,0.25],[240,0.35],[243,0.32],[245,0.33]],
  [[1,0.2],[3,0.21],[5,0.22],[6,0.27],[10,0.27],[14,0.3],[18,0.35],[22,0.38],[25,0.39],[28,0.38],[30,0.4],[33,0.42],[35,0.36],[38,0.33],[42,0.32],[45,0.32],[50,0.31],[55,0.28],[60,0.27],[65,0.26],[68,0.27],[69,0.58],[72,0.56],[75,0.55],[80,0.53],[82,0.25],[84,0.3],[86,0.2],[88,0.22],[90,0.2],[92,0.25],[95,0.28],[100,0.29],[105,0.27],[110,0.27],[115,0.26],[120,0.25],[125,0.24],[130,0.23],[135,0.22],[136,0.4],[138,0.52],[142,0.5],[145,0.48],[150,0.43],[155,0.38],[160,0.38],[165,0.35],[170,0.35],[173,0.34],[175,0.38],[178,0.4],[182,0.4],[186,0.42],[190,0.45],[193,0.5],[195,0.42],[200,0.43],[205,0.42],[210,0.41],[215,0.4],[218,0.4],[220,0.38],[225,0.37],[230,0.36],[235,0.35],[238,0.28],[240,0.32],[245,0.31]]
];
const mm5DHM_h12 = [
  [[1,0.66],[2,0.6],[4,0.62],[5,0.85],[6,0.82],[8,0.8],[12,0.8],[16,0.79],[20,0.8],[21,0.73],[25,0.72],[27,0.7],[29,0.65],[30,0.75],[32,0.72],[34,0.58],[36,0.52],[40,0.45],[44,0.42],[48,0.4],[50,0.38],[53,0.3],[55,0.25],[58,0.22],[62,0.2],[65,0.2],[68,0.2],[70,0.28],[72,0.3],[76,0.32],[79,0.35],[80,0.4],[82,0.36],[84,0.32],[86,0.2],[90,0.16],[92,0.15],[94,0.07],[96,0.05],[98,-0.05],[100,-0.05],[102,-0.07],[104,-0.1],[107,-0.07],[110,-0.02],[115,0.0],[120,0.0],[125,0.02],[130,0.03],[134,0.05],[136,-0.09],[137,0.08],[140,0.12],[145,0.15],[150,0.15],[155,0.1],[160,0.12],[165,0.14],[170,0.18],[175,0.22],[178,0.2],[182,0.22],[186,0.24],[190,0.22],[193,0.22],[195,0.2],[200,0.19],[205,0.2],[210,0.2],[212,0.23],[218,0.24],[222,0.23],[225,0.22],[230,0.23],[235,0.22],[240,0.2],[245,0.19]],
  [[1,0.55],[3,0.53],[5,0.55],[6,0.57],[10,0.52],[14,0.55],[18,0.57],[22,0.55],[25,0.53],[28,0.5],[30,0.55],[32,0.45],[34,0.5],[36,0.45],[38,0.4],[42,0.38],[45,0.36],[48,0.42],[50,0.3],[53,0.27],[56,0.22],[60,0.21],[63,0.2],[67,0.22],[70,0.28],[73,0.32],[76,0.33],[79,0.36],[81,0.4],[83,0.3],[86,0.16],[90,0.15],[93,0.1],[95,0.08],[98,0.05],[100,0.07],[103,0.12],[106,0.13],[110,0.15],[115,0.15],[120,0.13],[125,0.15],[130,0.14],[134,0.12],[136,-0.05],[137,0.03],[140,0.1],[145,0.13],[150,0.1],[155,0.08],[160,0.09],[165,0.1],[170,0.12],[175,0.17],[178,0.2],[182,0.18],[186,0.25],[190,0.28],[193,0.27],[195,0.25],[200,0.24],[205,0.24],[210,0.24],[212,0.28],[218,0.3],[222,0.28],[225,0.27],[230,0.28],[235,0.27],[240,0.26],[245,0.26]],
  [[1,0.25],[3,0.27],[5,0.5],[6,0.48],[10,0.48],[14,0.46],[18,0.47],[22,0.45],[25,0.43],[28,0.4],[30,0.45],[32,0.35],[34,0.38],[36,0.35],[38,0.33],[42,0.36],[45,0.42],[48,0.45],[50,0.35],[53,0.25],[56,0.18],[60,0.17],[63,0.16],[67,0.17],[70,0.22],[73,0.25],[76,0.27],[79,0.3],[81,0.32],[83,0.25],[86,0.15],[90,0.1],[93,0.03],[95,-0.05],[98,-0.08],[100,-0.07],[103,-0.1],[106,-0.08],[110,-0.05],[115,-0.03],[120,-0.02],[125,-0.02],[130,-0.03],[134,-0.02],[136,-0.03],[137,0.02],[140,0.06],[145,0.05],[150,0.05],[155,0.06],[160,0.08],[165,0.1],[170,0.1],[175,0.13],[178,0.12],[182,0.14],[186,0.16],[190,0.15],[193,0.1],[195,0.08],[200,0.07],[205,0.07],[210,0.08],[212,0.16],[218,0.17],[222,0.16],[225,0.17],[230,0.16],[235,0.15],[240,0.16],[245,0.16]]
];
const mm5DHM_h22 = [
  [[1,0.1],[3,0.05],[5,0.05],[6,0.22],[10,0.22],[15,0.23],[20,0.25],[25,0.26],[28,0.27],[30,0.3],[32,0.35],[35,0.37],[38,0.4],[40,0.42],[43,0.45],[45,0.47],[50,0.48],[55,0.48],[60,0.5],[65,0.5],[68,0.5],[69,0.62],[72,0.62],[76,0.6],[80,0.58],[83,0.6],[85,0.7],[88,0.72],[92,0.7],[95,0.68],[100,0.66],[105,0.65],[110,0.63],[115,0.62],[120,0.61],[125,0.6],[130,0.6],[135,0.6],[137,0.45],[140,0.58],[143,0.6],[145,0.55],[147,0.6],[148,0.81],[152,0.8],[154,0.78],[155,0.65],[160,0.65],[162,0.5],[165,0.48],[170,0.5],[175,0.5],[180,0.52],[183,0.55],[186,0.55],[190,0.52],[193,0.3],[195,0.25],[200,0.25],[205,0.25],[210,0.25],[212,0.26],[215,0.27],[220,0.28],[225,0.3],[230,0.3],[233,0.32],[237,0.33],[240,0.34],[245,0.37]],
  [[1,0.0],[2,-0.1],[4,-0.1],[5,0.05],[6,0.2],[10,0.2],[15,0.21],[20,0.2],[25,0.22],[28,0.25],[30,0.28],[32,0.27],[35,0.4],[38,0.38],[42,0.42],[45,0.43],[50,0.44],[55,0.44],[60,0.45],[65,0.45],[68,0.45],[69,0.6],[75,0.58],[80,0.56],[83,0.57],[85,0.68],[88,0.66],[92,0.65],[95,0.6],[100,0.58],[105,0.57],[110,0.56],[115,0.57],[120,0.56],[125,0.56],[130,0.55],[135,0.55],[137,0.4],[140,0.55],[143,0.57],[145,0.45],[148,0.42],[150,0.45],[155,0.48],[160,0.45],[162,0.42],[165,0.35],[168,0.25],[172,0.24],[175,0.25],[178,0.27],[182,0.38],[186,0.4],[190,0.38],[193,0.22],[195,0.22],[200,0.24],[205,0.24],[210,0.25],[212,0.3],[215,0.28],[220,0.27],[225,0.26],[230,0.25],[233,0.22],[237,0.25],[240,0.27],[245,0.27]],
  [[1,-0.3],[2,-0.28],[3,-0.13],[4,-0.12],[5,0.04],[7,0.08],[10,0.1],[15,0.11],[20,0.12],[25,0.12],[28,0.13],[30,0.12],[32,0.1],[33,0.08],[35,0.17],[40,0.18],[45,0.18],[50,0.19],[55,0.19],[60,0.2],[65,0.2],[68,0.2],[69,0.55],[75,0.56],[80,0.55],[83,0.56],[85,0.72],[88,0.7],[92,0.68],[96,0.65],[100,0.63],[105,0.63],[110,0.62],[115,0.61],[120,0.6],[125,0.59],[130,0.58],[135,0.58],[137,0.38],[140,0.5],[143,0.6],[145,0.42],[148,0.4],[150,0.41],[155,0.42],[160,0.4],[163,0.3],[166,0.27],[170,0.22],[173,0.2],[176,0.2],[180,0.22],[183,0.25],[186,0.27],[190,0.25],[193,0.18],[195,0.16],[200,0.16],[205,0.16],[210,0.17],[212,0.16],[218,0.15],[222,0.14],[226,0.13],[230,0.1],[232,0.05],[234,0.04],[237,0.08],[240,0.1],[243,0.12],[245,0.15]]
];

const panels = [
  { caption: '(a) DWD weights in D/H',      h1: dwdDH_h1,     h12: dwdDH_h12,     h22: dwdDH_h22 },
  { caption: '(b) DWD weights in D/H/M',    h1: dwdDHM_h1,    h12: dwdDHM_h12,    h22: dwdDHM_h22 },
  { caption: '(c) DWD weights in D/M',      h1: dwdDM_h1,     h12: dwdDM_h12,     h22: dwdDM_h22 },
  { caption: '(d) HIRLAM weights in D/H/M', h1: hirlamDHM_h1, h12: hirlamDHM_h12, h22: hirlamDHM_h22 },
  { caption: '(e) HIRLAM weights in H/M',   h1: hirlamHM_h1,  h12: hirlamHM_h12,  h22: hirlamHM_h22 },
  { caption: '(f) MM5 weights in D/H/M',    h1: mm5DHM_h1,    h12: mm5DHM_h12,    h22: mm5DHM_h22 }
];

const BLUE = '#1874CD', PINK = '#CD1076', GREEN = '#00CD00';
const SANS = "'Liberation Sans', Arial, sans-serif";

// R-like text: glyphs stretched horizontally, like the squashed original figure
function rText(ctx, str, px, py, size, rotate) {
  ctx.save();
  ctx.translate(px, py);
  ctx.scale(1.45, 1);
  if (rotate) ctx.rotate(-Math.PI / 2);
  ctx.font = size + 'px ' + SANS;
  ctx.fillStyle = '#222';
  ctx.textAlign = 'center';
  ctx.textBaseline = 'middle';
  ctx.fillText(str, 0, 0);
  ctx.restore();
}

// reference lines, box, axes and legend drawn R style
const rFrame = {
  id: 'rFrame',
  beforeDatasetsDraw(chart) {
    const { ctx, chartArea: { left, right }, scales: { y } } = chart;
    ctx.save();
    let py = Math.round(y.getPixelForValue(1)) + 0.5;
    ctx.strokeStyle = '#858585';
    ctx.lineWidth = 1.5;
    ctx.setLineDash([5, 4]);
    ctx.beginPath(); ctx.moveTo(left, py); ctx.lineTo(right, py); ctx.stroke();
    py = Math.round(y.getPixelForValue(0)) + 0.5;
    ctx.strokeStyle = '#111';
    ctx.lineWidth = 0.9;
    ctx.setLineDash([1, 1.5]);
    ctx.beginPath(); ctx.moveTo(left, py); ctx.lineTo(right, py); ctx.stroke();
    ctx.restore();
  },
  afterDatasetsDraw(chart) {
    const { ctx, chartArea: { left, right, top, bottom }, scales: { x, y } } = chart;
    ctx.save();
    // box
    ctx.strokeStyle = '#222';
    ctx.lineWidth = 1;
    ctx.strokeRect(left + 0.5, top + 0.5, right - left - 1, bottom - top - 1);
    // ticks
    ctx.beginPath();
    xTicks.forEach(v => {
      const px = Math.round(x.getPixelForValue(v)) + 0.5;
      ctx.moveTo(px, bottom); ctx.lineTo(px, bottom + 5);
    });
    yTicks.forEach(v => {
      const py = Math.round(y.getPixelForValue(v)) + 0.5;
      ctx.moveTo(left, py); ctx.lineTo(left - 6, py);
    });
    ctx.stroke();
    xTicks.forEach(v => rText(ctx, String(v), x.getPixelForValue(v), bottom + 11, 7.5));
    yTicks.forEach((v, i) => rText(ctx, yTickLabels[i], left - 20, y.getPixelForValue(v), 7.5, true));
    rText(ctx, 'time [days]', (left + right) / 2, bottom + 25, 7.5);
    rText(ctx, 'Weight', left - 47, (top + bottom) / 2, 7, true);

    // legend
    const lx0 = Math.round(x.getPixelForValue(0)) + 0.5;
    const lx1 = Math.round(right - 3) + 0.5;
    const ly0 = Math.round(y.getPixelForValue(1.4)) + 0.5;
    const ly1 = ly0 + 16;
    ctx.fillStyle = '#fff';
    ctx.fillRect(lx0, ly0, lx1 - lx0, ly1 - ly0);
    ctx.strokeStyle = '#111';
    ctx.strokeRect(lx0, ly0, lx1 - lx0, ly1 - ly0);
    const lineOff = [14, 124, 248], textOff = [74, 189, 314];
    const cols = [BLUE, PINK, GREEN];
    const ly = (ly0 + ly1) / 2;
    horizons.forEach((h, i) => {
      ctx.strokeStyle = cols[i];
      ctx.lineWidth = 1;
      ctx.beginPath();
      ctx.moveTo(lx0 + lineOff[i], ly); ctx.lineTo(lx0 + lineOff[i] + 30, ly);
      ctx.stroke();
      rText(ctx, h, lx0 + textOff[i], ly, 7.5);
    });
    ctx.restore();
  }
};

const toPts = line => line.map(([d, w]) => ({ x: d, y: w }));

panels.forEach((p, i) => {
  const col = i % 2, row = Math.floor(i / 2);
  const cv = document.createElement('canvas');
  cv.width = 448; cv.height = 330;
  cv.style.left = (col * 448) + 'px';
  cv.style.top = (row * 398) + 'px';
  document.body.appendChild(cv);

  const cap = document.createElement('div');
  cap.className = 'cap';
  cap.style.left = (col ? 481 : -1) + 'px';
  cap.style.top = (341 + row * 397) + 'px';
  const sp = document.createElement('span');
  sp.textContent = p.caption;
  cap.appendChild(sp);
  document.body.appendChild(cap);

  // green first so it is drawn on top, blue last
  const datasets = [];
  [[p.h22, GREEN, 2], [p.h12, PINK, 1], [p.h1, BLUE, 0]].forEach(([group, color, k]) => {
    group.forEach((line, j) => {
      datasets.push({
        label: horizons[k],
        data: toPts(line),
        borderColor: color,
        borderWidth: j === 0 ? 1.5 : 1.1,
        pointRadius: 0,
        tension: 0,
        fill: false
      });
    });
  });

  new Chart(cv, {
    type: 'line',
    data: { datasets },
    options: {
      responsive: false,
      animation: false,
      devicePixelRatio: 1,
      events: [],
      layout: { padding: { left: col ? 73 : 62, right: col ? 2 : 13, top: 10, bottom: 48 } },
      scales: {
        x: { type: 'linear', min: -8.8, max: 254.8, display: false },
        y: { type: 'linear', min: -0.264, max: 1.464, display: false }
      },
      plugins: { legend: { display: false }, tooltip: { enabled: false } }
    },
    plugins: [rFrame]
  });
});
</script>
</body>
</html>
